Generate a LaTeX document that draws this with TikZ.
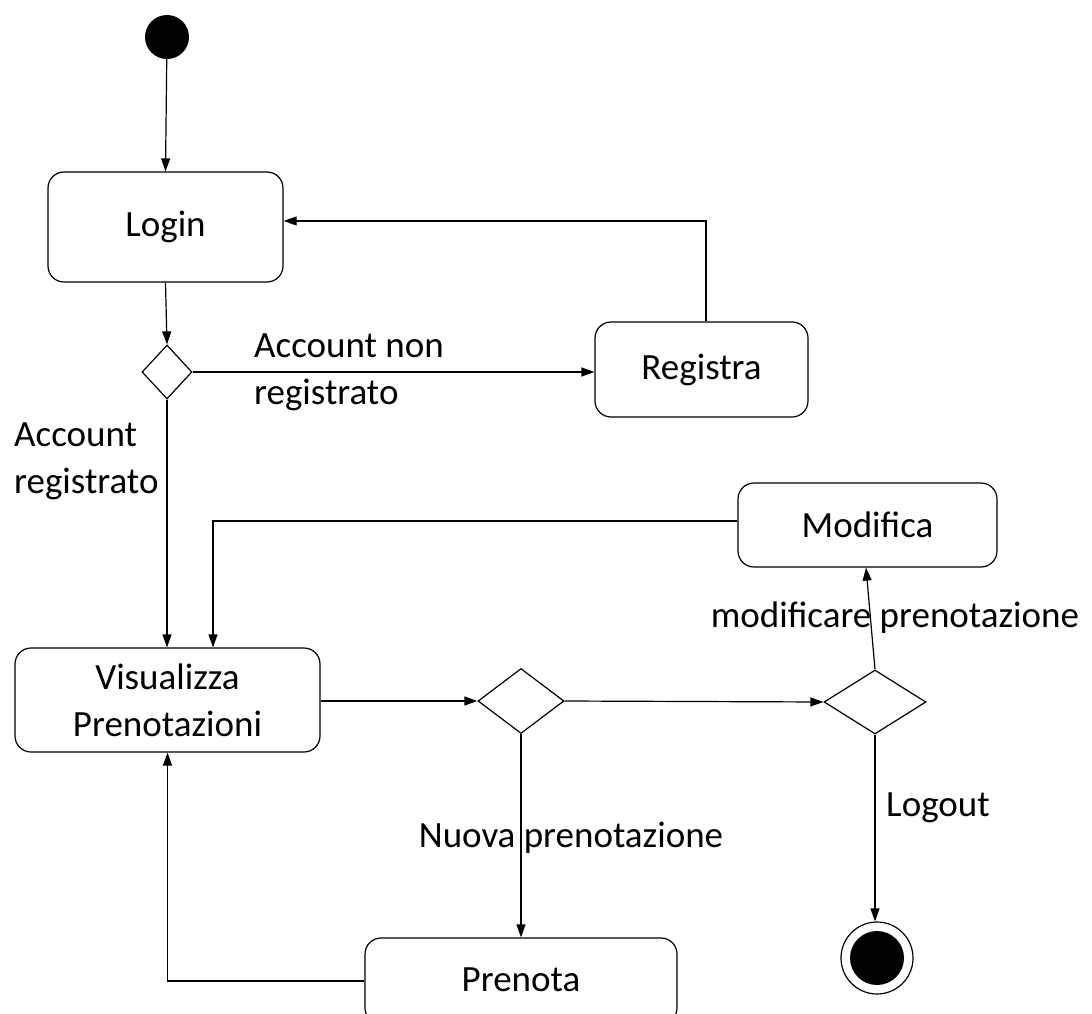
\documentclass[tikz,border=0pt]{standalone}
\usepackage{fontspec}
\setmainfont{Carlito}
\usetikzlibrary{shapes.geometric,arrows.meta}
\begin{document}
\begin{tikzpicture}[x=1pt,y=-1pt,
  every node/.style={font=\fontsize{37}{47}\selectfont},
  act/.style={draw,rounded corners=16pt,line width=1.2pt,inner sep=0pt,align=center},
  dec/.style={draw,diamond,line width=1.2pt,inner sep=0pt,aspect=1},
  conn/.style={line width=1.2pt,-{Triangle[length=13pt,width=9pt]}},
  lbl/.style={inner sep=0pt,align=left}]
\clip (0,0) rectangle (1092,1014);
\fill[white] (0,0) rectangle (1092,1014);
% nodes
\node[circle,fill=black,minimum size=44pt,inner sep=0pt] (init) at (167,37) {};
\node[act,minimum width=235pt,minimum height=110pt] (login) at (165.5,227) {Login};
\node[dec,minimum width=50pt,minimum height=54pt] (d1) at (167,372) {};
\node[act,minimum width=213pt,minimum height=95pt] (reg) at (701.5,369.5) {Registra};
\node[act,minimum width=305pt,minimum height=104pt] (vis) at (167.5,700) {Visualizza\\Prenotazioni};
\node[act,minimum width=259pt,minimum height=84pt] (mod) at (867.5,525) {Modifica};
\node[dec,minimum width=86pt,minimum height=65pt] (d2) at (521,701) {};
\node[dec,minimum width=102pt,minimum height=64pt] (d3) at (875,702) {};
\node[act,minimum width=312pt,minimum height=86pt,text depth=0pt] (pren) at (521,981) {};
\node at (521,980) {Prenota};
\node[circle,draw,line width=1.2pt,minimum size=72pt,inner sep=0pt] (fin) at (877,958) {};
\fill (fin.center) circle (27pt);
% connectors
\draw[conn] (init) -- (login.north);
\draw[conn] (login.south) -- (d1.north);
\draw[conn] (d1.east) -- (d1.east -| reg.west);
\draw[conn] ([xshift=4.5pt]reg.north) |- ([yshift=6pt]login.east);
\draw[conn] (d1.south) -- (d1.south |- vis.north);
\draw[conn] ([yshift=4pt]mod.west) -| ([xshift=45.5pt]vis.north);
\draw[conn] (vis.east |- d2.west) -- (d2.west);
\draw[conn] (d2.east) -- (d3.west);
\draw[conn] (d3.north) -- ([xshift=-1.5pt]mod.south);
\draw[conn] (d3.south) -- (d3.south |- fin.north);
\draw[conn] (d2.south) -- (pren.north);
\draw[conn] (pren.west) -| (vis.south);
% labels
\node[lbl,anchor=west] (l1) at (254,372) {Account non\\registrato};
\node[lbl,anchor=west] (l2) at (14,461) {Account\\registrato};
\node[lbl] (l3) at (895,618) {modificare prenotazione};
\node[lbl,anchor=west] (l4) at (886,808) {Logout};
\node[lbl] (l5) at (571,838) {Nuova prenotazione};
\end{tikzpicture}
\end{document}
